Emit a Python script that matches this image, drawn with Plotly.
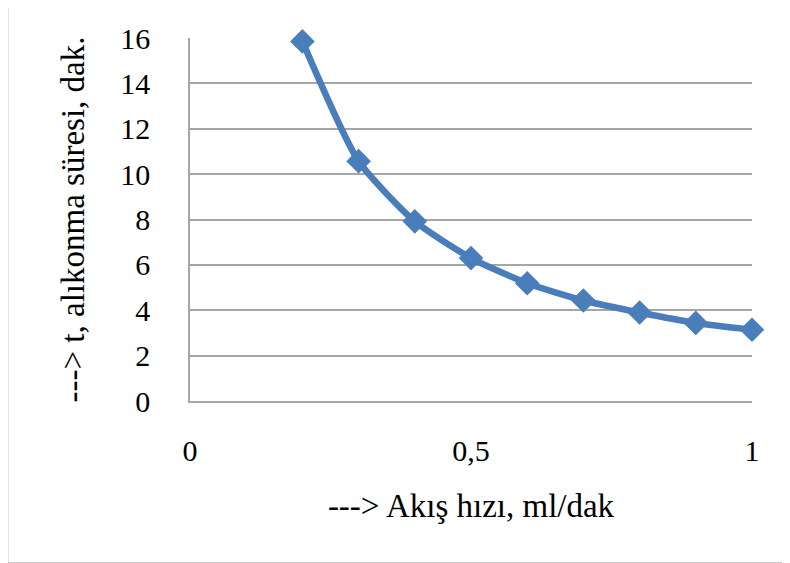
import plotly.graph_objects as go

flow_rate = [0.2, 0.3, 0.4, 0.5, 0.6, 0.7, 0.8, 0.9, 1.0]
retention_time = [15.85, 10.57, 7.92, 6.3, 5.19, 4.43, 3.9, 3.44, 3.14]
x_ticks = [0, 0.5, 1]
x_tick_labels = ["0", "0,5", "1"]
y_ticks = [0, 2, 4, 6, 8, 10, 12, 14, 16]
x_title = "---> Akış hızı, ml/dak"
y_title = "---> t, alıkonma süresi, dak."

OFF = 8  # page body margin
W, H = 790 - OFF, 563 - OFF
L, R, T, B = 190 - OFF, 752 - OFF, 38.3 - OFF, 400.6 - OFF

fig = go.Figure()
fig.add_trace(go.Scatter(
    x=flow_rate, y=retention_time, mode="lines+markers",
    line=dict(color="#4a7ebb", width=6.5, shape="spline", smoothing=0.6),
    marker=dict(symbol="diamond", size=19, color="#4a7ebb"),
    cliponaxis=False, showlegend=False,
))

font = "Times New Roman"
fig.update_layout(
    width=W, height=H,
    margin=dict(l=L, r=W - R, t=T, b=H - B, pad=0),
    paper_bgcolor="white", plot_bgcolor="white",
    font=dict(family=font, size=30, color="black"),
    xaxis=dict(
        range=[0, 1], tickvals=x_ticks, ticktext=x_tick_labels,
        showgrid=False, zeroline=False,
        showline=True, linecolor="#a6a6a6", linewidth=1.5,
        ticks="", ticklabelstandoff=22,
        title=dict(text=x_title, standoff=28, font=dict(family=font, size=33)),
    ),
    yaxis=dict(
        range=[0, 16], tickvals=y_ticks,
        showgrid=True, gridcolor="#a6a6a6", gridwidth=1.5,
        zeroline=False, showline=True, linecolor="#a6a6a6", linewidth=1.5,
        ticks="", ticklabelstandoff=32,
        title=dict(text=y_title, standoff=26, font=dict(family=font, size=33)),
    ),
)

def px_x(p):
    return (p - OFF - L) / (R - L)

def px_y(p):
    return (B - (p - OFF)) / (B - T)

frame = dict(type="line", xref="paper", yref="paper",
             line=dict(color="#8c8c8c", width=2.5))
fig.add_shape(**frame, x0=px_x(7), x1=px_x(7), y0=px_y(4), y1=px_y(563))
fig.add_shape(**frame, x0=px_x(7), x1=px_x(790), y0=px_y(4.5), y1=px_y(4.5))
fig.add_shape(type="line", xref="paper", yref="paper",
              line=dict(color="#c8c8c8", width=1.5),
              x0=px_x(7), x1=px_x(790), y0=px_y(562), y1=px_y(562))

fig.write_html("out.html")
